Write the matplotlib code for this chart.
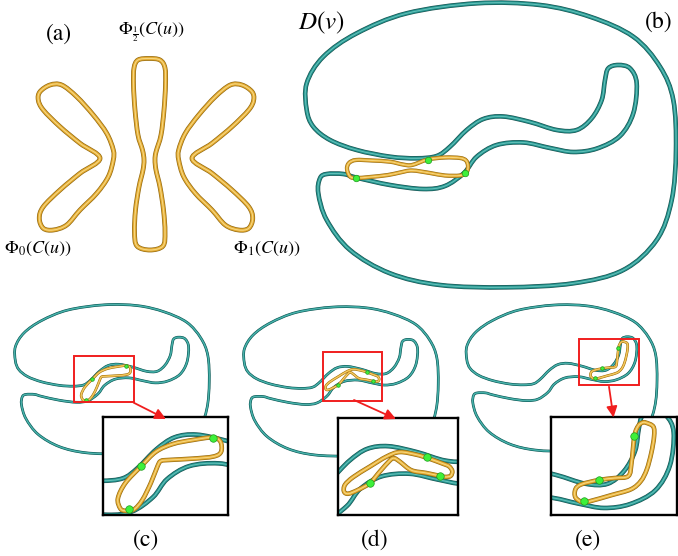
import numpy as np
import matplotlib
matplotlib.use('Agg')
import matplotlib.pyplot as plt
from matplotlib.path import Path
from matplotlib.patches import PathPatch, Rectangle, FancyArrowPatch

plt.rcParams['mathtext.fontset'] = 'stix'
plt.rcParams['font.family'] = ['STIXGeneral', 'DejaVu Serif']

W, H = 678, 556

# ---------------- data (control points of the closed curves) ----------------
# D(v): teal curve, in panel (b) pixel frame
D_X = [306.7, 306.7, 323.3, 356.7, 406.7, 476.7, 540, 590, 633.3, 660, 673.3, 676, 671.7, 656.7,
       623.3, 573.3, 506.7, 440, 390, 350, 326.7, 318.3, 320, 326.7, 343.3, 356.7, 390, 423, 445,
       464, 476.7, 496.7, 523.3, 550, 573.3, 597, 620, 633.3, 636.7, 630, 618.3, 608.3, 605,
       601.7, 591.7, 576.7, 556.7, 530, 503.3, 483.3, 466.7, 450, 436.7, 416.7, 390, 356.7, 330, 313.3]
D_Y = [110, 83.3, 56.7, 33.3, 13.3, 3.3, 5, 16.7, 36.7, 66.7, 100, 150, 200, 240,
       270, 283.3, 287.3, 285, 273.3, 250, 220, 193.3, 178.3, 174, 174, 177.7, 185, 189, 186,
       173, 156.7, 145, 142.5, 148, 152, 148.5, 136, 113.3, 83.3, 68.3, 65, 68.3, 80,
       100, 118.3, 130, 130, 122, 116.5, 119, 130, 146.7, 156, 158.3, 156.7, 150, 140, 126.7]

# (a) yellow curves
PHI0_X = [40, 50, 61.7, 76.7, 93.3, 106.7, 113.3, 113.3, 108.3, 96.7, 80, 66.7, 53.3, 43.3, 39.3,
          43.3, 60, 80, 100, 80, 60, 43.3, 38.3]
PHI0_Y = [91.7, 85, 85, 96.7, 115, 133.3, 150, 160, 176.7, 193.3, 210, 225, 230, 228.3, 218.3,
          206.7, 190, 173.3, 158.3, 143.3, 126.7, 110, 100]
PHI1_X = [252, 242, 230.3, 215.3, 198.7, 185.3, 178.7, 178.7, 183.7, 195.3, 212, 225.3, 238.7, 248.7,
          252.7, 248.7, 232, 212, 192, 212, 232, 248.7, 253.7]
PHI1_Y = PHI0_Y
PHIH_X = [149, 160, 165, 165.5, 164, 161, 156, 155, 156, 160, 163.5, 165, 163, 150, 137, 134.5,
          135.5, 139, 143, 144, 142.5, 138, 135, 133.5, 134, 138]
PHIH_Y = [58.5, 60, 68, 85, 110, 135, 152, 160, 170, 187, 210, 232, 246, 250, 246, 232,
          210, 187, 170, 160, 150, 135, 110, 85, 68, 60]

# (b) yellow loop and contact points
YB_X = [347, 349, 356, 372, 390, 403, 412, 427.7, 445, 460, 466, 468, 466.5, 460, 445, 430, 412,
        400, 388, 370, 356, 350]
YB_Y = [169, 163, 160, 160.5, 161.7, 164.5, 165, 159.5, 157.5, 158, 160.5, 166, 172.5, 175.5,
        175.5, 173, 170.5, 172.5, 175, 177, 178, 176.5]
GB_X = [427.7, 356, 464.5]
GB_Y = [159.5, 177.5, 172.5]

# (c)
YC_X = [434.4, 432.2, 439.0, 453.4, 466.6, 481.9, 500.3, 517.8, 524.9, 525.5, 518.7, 500.3, 478.9,
        471.2, 468.1, 462.0, 454.3, 446.7, 439.0]
YC_Y = [183.3, 174.2, 160.2, 144.9, 132.0, 125.0, 121.3, 119.1, 122.8, 132.0, 136.3, 138.2, 139.4,
        140.3, 144.9, 160.2, 175.6, 184.2, 185.4]
GC_X = [517.8, 453.4, 442]
GC_Y = [119.8, 144.9, 183.8]

# (d)
YD_X = [461.4, 462.3, 470.1, 485.8, 501.5, 514.0, 529.7, 539.7, 554.7, 560.5, 563.5, 562.0, 557.0,
        551.6, 539.1, 525.0, 514.0, 508.6, 504.6, 495.2, 485.8, 474.8, 465.4]
YD_Y = [159.2, 152.9, 145.6, 135.7, 126.3, 122.0, 124.5, 127.5, 133.0, 135.5, 140.0, 144.5, 145.5,
        144.5, 141.8, 139.2, 131.0, 127.8, 130.0, 140.4, 151.3, 157.6, 161.3]
GD_X = [539.7, 552.0, 485.8]
GD_Y = [126.5, 144.8, 151.3]

# (e)
YE_X = [611.4, 618.2, 618.9, 616.4, 612.3, 606.9, 597.9, 579.9, 561.9, 554.3, 547.5, 547.5, 552.9,
        568.7, 582.9, 595.5, 598.4, 601.1, 604.5, 608.3]
YE_Y = [74.4, 78.0, 87.0, 101.9, 117.0, 127.5, 135.0, 140.4, 145.5, 146.9, 142.4, 135.0, 130.5,
        126.6, 124.8, 123.0, 110.9, 86.4, 77.4, 74.4]
GE_X = [600.9, 568.7, 555]
GE_Y = [86.1, 126.6, 145.5]

# ---------------- helpers ----------------
TEAL = ['#17524f', '#23928d', '#62c0b8']
GOLD = ['#92690f', '#e4aa32', '#f6d77e']


def closed_path(xs, ys):
    P = np.column_stack([xs, ys]).astype(float)
    n = len(P)
    verts = [P[0]]
    codes = [Path.MOVETO]
    for i in range(n):
        p0, p1, p2, p3 = P[(i - 1) % n], P[i], P[(i + 1) % n], P[(i + 2) % n]
        verts += [p1 + (p2 - p0) / 6.0, p2 - (p3 - p1) / 6.0, p2]
        codes += [Path.CURVE4] * 3
    verts.append(P[0])
    codes.append(Path.CLOSEPOLY)
    return Path(verts, codes)


def tube(ax, xs, ys, cols, px, z):
    path = closed_path(xs, ys)
    for frac, c in zip([1.0, 0.72, 0.25], cols):
        ax.add_patch(PathPatch(path, fill=False, lw=px * frac * 0.72, ec=c, zorder=z,
                               capstyle='round', joinstyle='round'))


def dots(ax, xs, ys, px, z):
    ax.plot(xs, ys, 'o', ms=px * 0.72, mfc='#3ef03a', mec='#1e9b1e', mew=0.5, zorder=z, ls='none')


def add_px_axes(fig, l, t, w, h, **kw):
    return fig.add_axes([l / W, 1 - (t + h) / H, w / W, h / H], **kw)


fig = plt.figure(figsize=(W / 100, H / 100), dpi=100)

# main axes: panels (a) and (b) in pixel frame
ax = add_px_axes(fig, 0, 0, W, H)
ax.set_xlim(0, W)
ax.set_ylim(H, 0)
ax.axis('off')

tube(ax, PHI0_X, PHI0_Y, GOLD, 4.8, 3)
tube(ax, PHI1_X, PHI1_Y, GOLD, 4.8, 3)
tube(ax, PHIH_X, PHIH_Y, GOLD, 4.8, 3)

tube(ax, D_X, D_Y, TEAL, 4.6, 2)
tube(ax, YB_X, YB_Y, GOLD, 4.2, 3)
dots(ax, GB_X, GB_Y, 6.5, 5)

# small panels (c), (d), (e)
panels = [
    # X0, Y0, scale, yellow, greens, redbox (x, y, w, h in b-frame), inset px (l, t, w, h)
    (15, 304.8, 0.525, (YC_X, YC_Y), (GC_X, GC_Y), (419, 100.3, 113, 88.9), (103.3, 416.7, 125, 98.3)),
    (244, 307, 0.525, (YD_X, YD_Y), (GD_X, GD_Y), (456, 89.6, 113.2, 91.8), (338.3, 417.7, 120, 97.3)),
    (466.5, 305, 0.515, (YE_X, YE_Y), (GE_X, GE_Y), (525, 69, 115, 89.4), (550.7, 416.7, 126.6, 98.3)),
]
XL, YL = (295, 685), (295, -5)
for X0, Y0, s, (yx, yy), (gx, gy), rb, ib in panels:
    l = X0 + (XL[0] - 306) * s
    t = Y0 + (YL[1] - 3.3) * s
    pax = add_px_axes(fig, l, t, (XL[1] - XL[0]) * s, (YL[0] - YL[1]) * s)
    pax.set_xlim(*XL)
    pax.set_ylim(*YL)
    pax.axis('off')
    pax.patch.set_alpha(0)
    tube(pax, D_X, D_Y, TEAL, 2.7, 2)
    tube(pax, yx, yy, GOLD, 2.6, 3)
    dots(pax, gx, gy, 3.6, 5)
    pax.add_patch(Rectangle((rb[0], rb[1]), rb[2], rb[3], fill=False, ec='#f01e1e', lw=1.4, zorder=6))

    iax = add_px_axes(fig, *ib)
    iax.set_xlim(rb[0], rb[0] + rb[2])
    iax.set_ylim(rb[1] + rb[3], rb[1])
    iax.set_xticks([])
    iax.set_yticks([])
    for sp in iax.spines.values():
        sp.set_linewidth(1.7)
        sp.set_color('black')
    iax.set_zorder(10)
    tube(iax, D_X, D_Y, TEAL, 4.6, 2)
    tube(iax, yx, yy, GOLD, 4.6, 3)
    dots(iax, gx, gy, 7.5, 5)

# overlay: texts and arrows
ov = add_px_axes(fig, 0, 0, W, H)
ov.set_xlim(0, W)
ov.set_ylim(H, 0)
ov.axis('off')
ov.patch.set_alpha(0)
ov.set_zorder(20)

ARROWS = [((133.7, 402.7), (166, 419)), ((354, 400), (396, 419)), ((609, 386.7), (613.5, 417.5))]
for a, b in ARROWS:
    ov.add_patch(FancyArrowPatch(a, b, arrowstyle='-|>,head_length=6.5,head_width=3.2',
                                 color='#f01e1e', lw=1.3, shrinkA=0, shrinkB=0))

tk = dict(ha='center', va='center', color='black')
ov.text(59, 34, '(a)', fontsize=17, **tk)
ov.text(659, 22, '(b)', fontsize=17, **tk)
ov.text(146, 540, '(c)', fontsize=17, **tk)
ov.text(375, 540, '(d)', fontsize=17, **tk)
ov.text(588, 540, '(e)', fontsize=17, **tk)
ov.text(321, 23, r'$D(v)$', fontsize=18, **tk)
ov.text(152, 32, r'$\Phi_{\frac{1}{2}}(C(u))$', fontsize=13, **tk)
ov.text(38, 249, r'$\Phi_0(C(u))$', fontsize=13, **tk)
ov.text(267, 249, r'$\Phi_1(C(u))$', fontsize=13, **tk)

fig.savefig('out.png', dpi=100)
